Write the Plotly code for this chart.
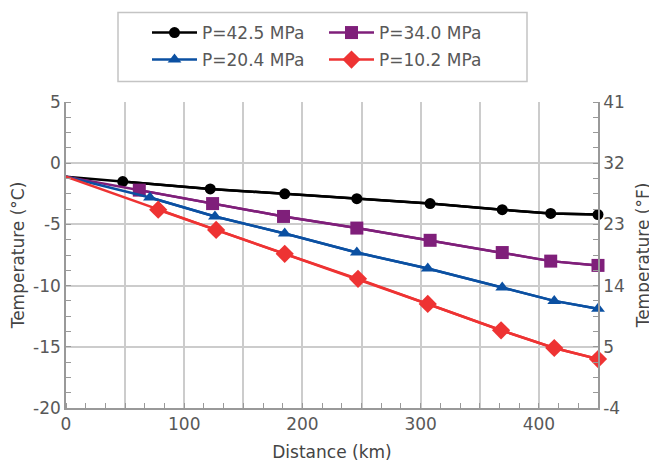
import plotly.graph_objects as go

# Data (distance km, temperature °C)
x_425 = [0, 48, 122, 185, 246, 308, 369, 410, 450]
t_425 = [-1.1, -1.5, -2.1, -2.5, -2.9, -3.3, -3.8, -4.1, -4.2]
x_340 = [0, 62, 124, 184, 246, 308, 369, 410, 450]
t_340 = [-1.1, -2.2, -3.3, -4.35, -5.3, -6.3, -7.3, -8.0, -8.35]
x_204 = [0, 71, 126, 185, 246, 306, 369, 413, 450]
t_204 = [-1.1, -2.8, -4.35, -5.75, -7.3, -8.6, -10.15, -11.25, -11.9]
x_102 = [0, 78, 127, 185, 247, 306, 368, 413, 450]
t_102 = [-1.1, -3.8, -5.45, -7.4, -9.45, -11.5, -13.65, -15.1, -16.0]

names = ["P=42.5 MPa", "P=34.0 MPa", "P=20.4 MPa", "P=10.2 MPa"]

x_ticks = [0, 50, 100, 150, 200, 250, 300, 350, 400, 450]
x_ticktext = ["0", "", "100", "", "200", "", "300", "", "400", ""]
c_ticks = [5, 0, -5, -10, -15, -20]
f_ticks = [41, 32, 23, 14, 5, -4]

colors = ["#000000", "#7f1f7a", "#0b50a2", "#ee3333"]
symbols = ["circle", "square", "triangle-up", "diamond"]
sizes = [11, 13, 12, 14]
legends = ["legend", "legend", "legend2", "legend2"]

fig = go.Figure()
series = [(x_425, t_425), (x_340, t_340), (x_204, t_204), (x_102, t_102)]
for (xs, ys), n, c, s, sz, lg in zip(series, names, colors, symbols, sizes, legends):
    # full line including the origin point (no marker there)
    fig.add_trace(go.Scatter(
        x=xs, y=ys, mode="lines", line=dict(color=c, width=2.5),
        showlegend=False, hoverinfo="skip", cliponaxis=False,
    ))
    fig.add_trace(go.Scatter(
        x=xs[1:], y=ys[1:], name=n, mode="lines+markers",
        line=dict(color=c, width=2.5),
        marker=dict(symbol=s, size=sz, color=c),
        cliponaxis=False, legend=lg,
    ))

# invisible trace on the °F axis
fig.add_trace(go.Scatter(
    x=x_425, y=[t * 9 / 5 + 32 for t in t_425], yaxis="y2",
    mode="markers", marker=dict(opacity=0), showlegend=False, hoverinfo="skip",
))

# page body has an 8px margin: work in figure coordinates shifted by 8px
W, H, OFF = 649, 454, 8
L, R, T, B = 66 - OFF, 657 - 598, 102 - OFF, 462 - 408
PW, PH = W - L - R, H - T - B

font_family = "DejaVu Sans"
tick_font = dict(family=font_family, size=17, color="#585858")
title_font = dict(family=font_family, size=17, color="#444444")
legend_common = dict(
    orientation="h", xref="container", yref="container",
    xanchor="left", yanchor="middle",
    font=dict(family=font_family, size=17, color="#585858"),
    entrywidth=117, itemwidth=45, bgcolor="rgba(0,0,0,0)", borderwidth=0,
)

fig.update_layout(
    width=W, height=H,
    margin=dict(l=L, r=R, t=T, b=B),
    plot_bgcolor="white", paper_bgcolor="white",
    font=dict(family=font_family, size=17, color="#585858"),
    legend=dict(legend_common, x=(147 - OFF) / W, y=1 - (33 - OFF) / H),
    legend2=dict(legend_common, x=(147 - OFF) / W, y=1 - (60 - OFF) / H),
    shapes=[dict(type="rect", xref="paper", yref="paper",
                 x0=(118 - 66) / PW, x1=(527 - 66) / PW,
                 y0=(408 - 81.5) / PH, y1=(408 - 12.5) / PH,
                 line=dict(color="#c4c4c4", width=1.5), fillcolor="rgba(0,0,0,0)")],
    xaxis=dict(
        range=[0, 450], tickvals=x_ticks, ticktext=x_ticktext,
        showgrid=True, gridcolor="#cccccc", gridwidth=1.5,
        showline=True, linecolor="#999999", linewidth=1.5,
        ticks="", tickfont=tick_font, zeroline=False, automargin=False,
        minor=dict(dtick=50 / 3, tick0=0, ticks="inside", ticklen=5,
                   tickcolor="#999999", showgrid=False),
        title=dict(text="Distance (km)", font=title_font, standoff=14),
    ),
    yaxis=dict(
        range=[-20, 5], tickvals=c_ticks, ticktext=[str(v) for v in c_ticks],
        showgrid=True, gridcolor="#cccccc", gridwidth=1.5,
        showline=True, linecolor="#999999", linewidth=1.5,
        ticks="", tickfont=tick_font, zeroline=False, automargin=False,
        minor=dict(dtick=1.25, tick0=0, ticks="inside", ticklen=5,
                   tickcolor="#999999", showgrid=False),
        title=dict(text="Temperature (°C)", font=title_font, standoff=6),
    ),
    yaxis2=dict(
        range=[-4, 41], tickvals=f_ticks, ticktext=[str(v) for v in f_ticks],
        overlaying="y", side="right",
        showgrid=False, showline=True, linecolor="#999999", linewidth=1.5,
        ticks="", tickfont=tick_font, zeroline=False, automargin=False,
        minor=dict(dtick=2.25, tick0=-4, ticks="inside", ticklen=5,
                   tickcolor="#999999", showgrid=False),
        title=dict(text="Temperature (°F)", font=title_font, standoff=13),
    ),
)

fig.write_html("out.html")
